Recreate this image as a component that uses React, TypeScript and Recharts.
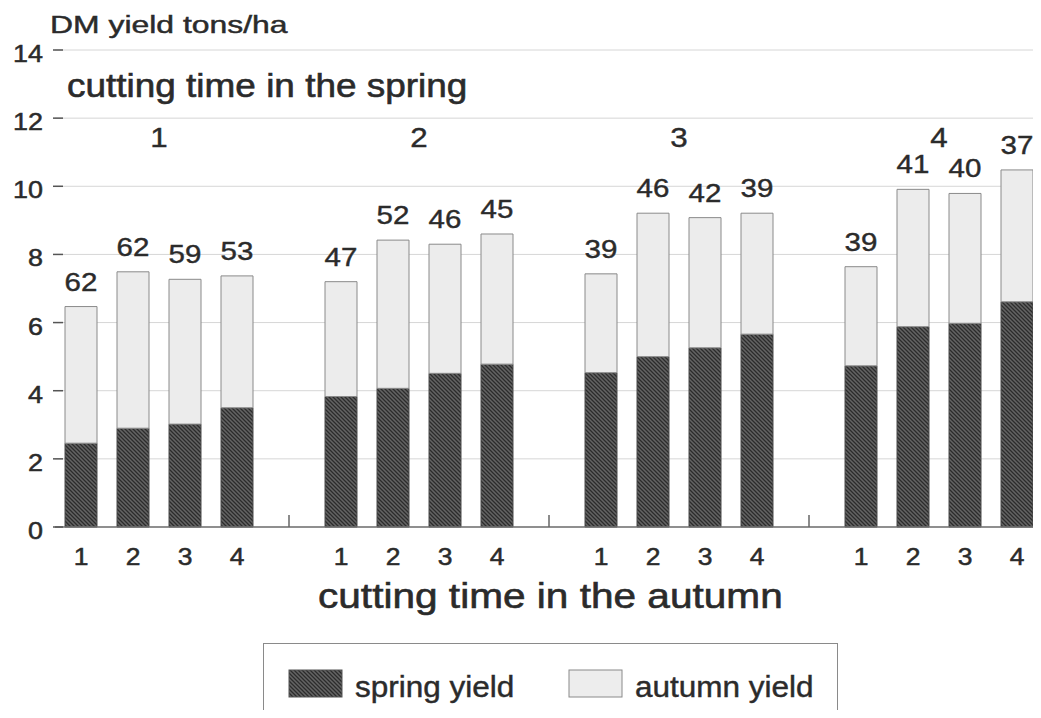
import React from 'react';
import { BarChart, Bar, XAxis, YAxis, CartesianGrid, LabelList, ReferenceArea, Legend } from 'recharts';

// ---- data ----
const slots = ['1-1', '1-2', '1-3', '1-4', 'g1', '2-1', '2-2', '2-3', '2-4', 'g2', '3-1', '3-2', '3-3', '3-4', 'g3', '4-1', '4-2', '4-3', '4-4'];
const autumnCutLabels = ['1', '2', '3', '4', '', '1', '2', '3', '4', '', '1', '2', '3', '4', '', '1', '2', '3', '4'];
const springYield = [2.46, 2.9, 3.02, 3.5, null, 3.83, 4.07, 4.51, 4.78, null, 4.53, 5.0, 5.26, 5.66, null, 4.73, 5.88, 5.98, 6.61];
const autumnYield = [4.01, 4.59, 4.25, 3.87, null, 3.37, 4.35, 3.79, 3.82, null, 2.9, 4.21, 3.82, 3.55, null, 2.91, 4.03, 3.81, 3.87];
const autumnShare = ['62', '62', '59', '53', '', '47', '52', '46', '45', '', '39', '46', '42', '39', '', '39', '41', '40', '37'];
const springCutLabels = ['1', '2', '3', '4'];
const springCutFirst = ['1-1', '2-1', '3-1', '4-1'];
const springCutLast = ['1-4', '2-4', '3-4', '4-4'];
const springCutLabelY = 11.15;
const yTicks = [0, 2, 4, 6, 8, 10, 12, 14];
const legendOrder = ['spring', 'autumn'];

const data = slots.map((s, i) => ({
  slot: s,
  spring: springYield[i],
  autumn: autumnYield[i],
  share: autumnShare[i],
}));

const FONT = '"Liberation Sans", Arial, Helvetica, sans-serif';
const INK = '#2b2b2b';

const WideText = ({ x, y, sx = 1.15, size = 23, anchor = 'start', weight = 0.35, children }: any) => (
  <text
    transform={`translate(${x},${y}) scale(${sx},1)`}
    textAnchor={anchor}
    fontSize={size}
    fontFamily={FONT}
    fill={INK}
    stroke={INK}
    strokeWidth={weight}
  >
    {children}
  </text>
);

const YTick = (props: any) => {
  const { x, y, payload } = props;
  return (
    <g>
      <line x1={x - 2} x2={x + 8} y1={y} y2={y} stroke="#555" strokeWidth={1.5} />
      <WideText x={x - 12} y={y + 12} anchor="end" size={23} sx={1.17} weight={0.5}>
        {payload.value}
      </WideText>
    </g>
  );
};

const XTick = (props: any) => {
  const { x, y, payload } = props;
  const i = slots.indexOf(payload.value);
  const label = autumnCutLabels[i];
  if (!label) {
    return <line x1={x} x2={x} y1={y - 12} y2={y} stroke="#666" strokeWidth={1.5} />;
  }
  return (
    <WideText x={x} y={y + 38} anchor="middle" size={23} sx={1.15} weight={0.5}>
      {label}
    </WideText>
  );
};

const ShareLabel = (props: any) => {
  const { x, y, width, value } = props;
  if (!value) return null;
  return (
    <WideText x={x + width / 2} y={y - 16} anchor="middle" size={25} sx={1.18} weight={0.4}>
      {value}
    </WideText>
  );
};

const GroupLabel = (text: string) => (props: any) => {
  const vb = props.viewBox || {};
  const cx = vb.x + (vb.width || 0) / 2;
  const by = vb.y + (vb.height || 0);
  return (
    <WideText x={cx} y={by} anchor="middle" size={28} sx={1.12} weight={0.4}>
      {text}
    </WideText>
  );
};

const LegendBox = (props: any) => {
  const payload = [...(props.payload || [])].sort(
    (a: any, b: any) => legendOrder.indexOf(a.dataKey) - legendOrder.indexOf(b.dataKey)
  );
  return (
    <svg width={575} height={80} style={{ display: 'block' }}>
      <rect x={0.5} y={0.5} width={574} height={90} fill="#fff" stroke="#8a8a8a" strokeWidth={1} />
      {payload.map((p: any, i: number) => {
        const sx = 26 + i * 280;
        const isSpring = p.dataKey === 'spring';
        return (
          <g key={p.value}>
            <rect
              x={sx}
              y={27}
              width={53}
              height={27}
              fill={isSpring ? 'url(#springHatch)' : '#ededed'}
              stroke={isSpring ? '#555' : '#8a8a8a'}
              strokeWidth={1}
            />
            <WideText x={sx + 66} y={54} size={30} sx={1.05} weight={0.45}>
              {p.value}
            </WideText>
          </g>
        );
      })}
    </svg>
  );
};

export default function App() {
  return (
    <div style={{ margin: -8, width: 1041, height: 718, overflow: 'hidden', position: 'relative', background: '#fff' }}>
      <svg width={0} height={0} style={{ position: 'absolute' }}>
        <defs>
          <pattern id="springHatch" patternUnits="userSpaceOnUse" width={4} height={4}>
            <rect width={4} height={4} fill="#646464" />
            <path d="M0,0 L4,4 M-1,3 L1,5 M3,-1 L5,1" stroke="#2c2c2c" strokeWidth={1.3} />
          </pattern>
        </defs>
      </svg>
      <BarChart
        width={1043}
        height={718}
        data={data}
        margin={{ top: 50, right: 0, bottom: 151, left: 0 }}
        barSize={32}
      >
        <CartesianGrid vertical={false} stroke="#d6d6d6" strokeWidth={1} />
        <XAxis
          xAxisId="cat"
          dataKey="slot"
          height={40}
          interval={0}
          tickLine={false}
          tickSize={0}
          tickMargin={0}
          axisLine={{ stroke: '#707070', strokeWidth: 1.5 }}
          tick={<XTick />}
        />
        <YAxis
          domain={[0, 14]}
          ticks={yTicks}
          interval={0}
          width={55}
          axisLine={false}
          tickLine={false}
          tickSize={0}
          tickMargin={0}
          tick={<YTick />}
        />
        <Bar
          xAxisId="cat"
          dataKey="spring"
          name="spring yield"
          stackId="y"
          fill="url(#springHatch)"
          stroke="#4a4a4a"
          strokeWidth={1}
          isAnimationActive={false}
        />
        <Bar
          xAxisId="cat"
          dataKey="autumn"
          name="autumn yield"
          stackId="y"
          fill="#ececec"
          stroke="#8a8a8a"
          strokeWidth={1}
          isAnimationActive={false}
        >
          <LabelList dataKey="share" content={<ShareLabel />} />
        </Bar>
        {springCutLabels.map((t, i) => (
          <ReferenceArea
            key={t}
            xAxisId="cat"
            x1={springCutFirst[i]}
            x2={springCutLast[i]}
            y1={springCutLabelY}
            y2={springCutLabelY + 0.5}
            fill="none"
            fillOpacity={0}
            stroke="none"
            label={GroupLabel(t)}
          />
        ))}
        <Legend
          layout="horizontal"
          verticalAlign="middle"
          align="center"
          content={<LegendBox />}
          wrapperStyle={{ position: 'absolute', left: 263, top: 643, width: 575, height: 80 }}
        />
      </BarChart>
      <svg width={1041} height={718} style={{ position: 'absolute', left: 0, top: 0, pointerEvents: 'none' }}>
        <WideText x={50} y={33} size={24} sx={1.33} weight={0.45}>
          DM yield tons/ha
        </WideText>
        <WideText x={67} y={97} size={33} sx={1.12} weight={0.6}>
          cutting time in the spring
        </WideText>
        <WideText x={318} y={608} size={35} sx={1.16} weight={0.6}>
          cutting time in the autumn
        </WideText>
      </svg>
    </div>
  );
}
